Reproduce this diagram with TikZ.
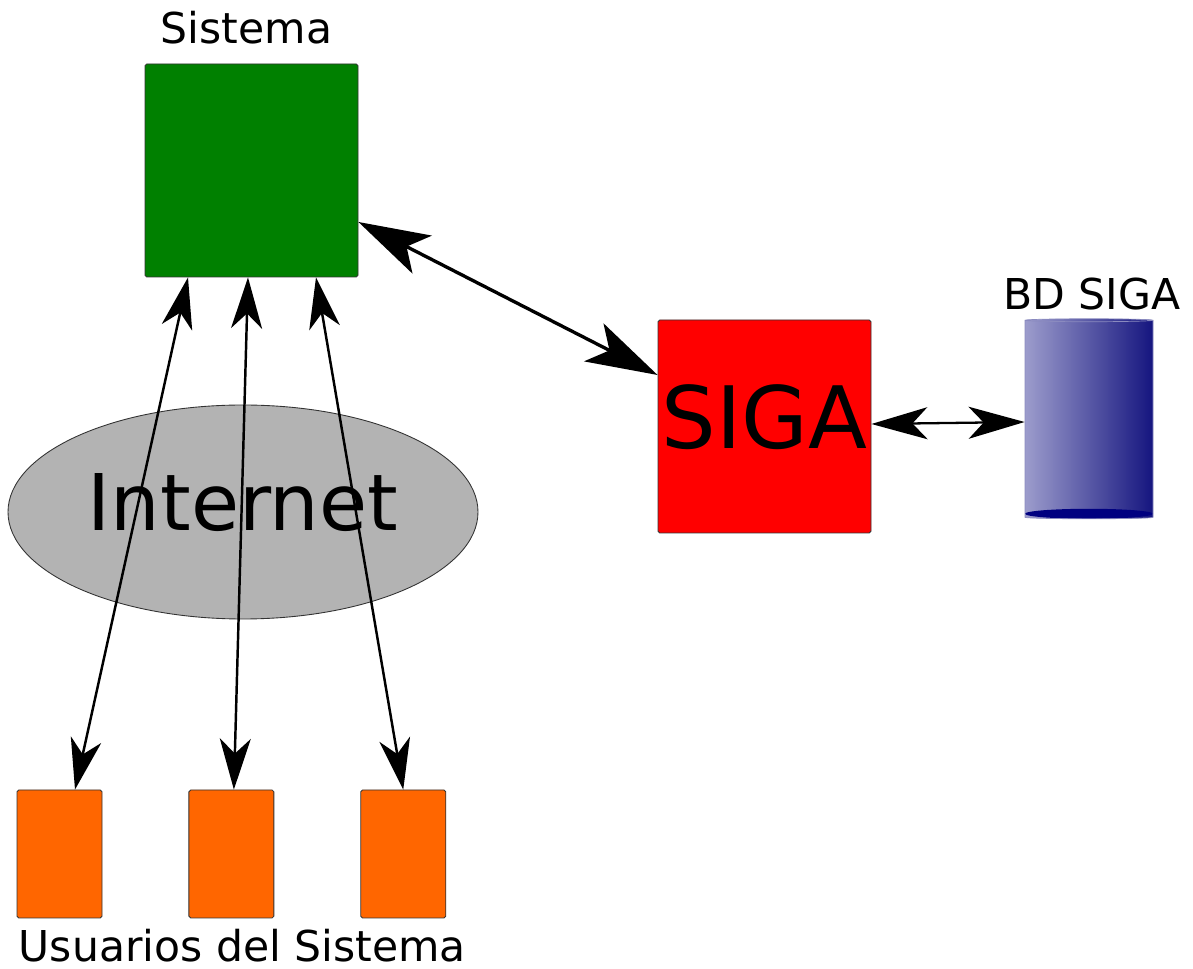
\documentclass[tikz,border=0pt]{standalone}
\usepackage{fontspec}
\setmainfont{DejaVu Sans}
\usepackage{tikz}
\usetikzlibrary{positioning,arrows.meta,shapes.geometric}
\definecolor{sisgreen}{HTML}{008000}
\definecolor{sigared}{HTML}{FF0000}
\definecolor{userorange}{HTML}{FF6600}
\definecolor{netgray}{HTML}{B3B3B3}
\definecolor{bdlight}{HTML}{9C9CCC}
\definecolor{bddark}{HTML}{15157F}
\definecolor{bdbottom}{HTML}{000080}

\begin{document}
\begin{tikzpicture}[node distance=0.5cm,
    box/.style={rectangle,rounded corners=1pt,draw=black!80,line width=0.5pt,
                minimum width=4.26cm,minimum height=4.26cm,inner sep=0pt},
    userbox/.style={rectangle,rounded corners=1pt,draw=black!80,line width=0.5pt,
                    fill=userorange,minimum width=1.70cm,minimum height=2.56cm},
    lbl/.style={inner sep=0pt,font=\fontsize{24.2}{29}\selectfont},
    bigarr/.style={{Stealth[length=1.43cm,width=0.85cm,inset=0.35cm]}-{Stealth[length=1.43cm,width=0.85cm,inset=0.35cm]},line width=1.9pt},
    userarr/.style={{Stealth[length=1.02cm,width=0.62cm,inset=0.3cm]}-{Stealth[length=1.02cm,width=0.62cm,inset=0.3cm]},line width=1.4pt},
    dbarr/.style={{Stealth[length=1.12cm,width=0.64cm,inset=0.3cm]}-{Stealth[length=1.12cm,width=0.64cm,inset=0.3cm]},line width=1.3pt}]
  \useasboundingbox (0,0) rectangle (23.86,-19.38);

  % main boxes
  \node[box,fill=sisgreen] (sis) at (5.03,-3.41) {};
  \node[box,fill=sigared,text depth=0.4cm,font=\fontsize{49}{58}\selectfont] (siga) at (15.29,-8.53) {SIGA};
  \node[ellipse,draw=black!80,line width=0.5pt,fill=netgray,minimum width=9.4cm,minimum height=4.28cm,
        inner sep=0pt,text depth=0.42cm,font=\fontsize{44.5}{53}\selectfont] (net) at (4.86,-10.24) {Internet};

  % database
  \node[cylinder,shape border rotate=90,aspect=0.25,draw=bddark!50,line width=0.4pt,
        minimum width=2.56cm,minimum height=4cm,left color=bdlight,right color=bddark,
        path picture={\fill[bdbottom] ([yshift=0.1cm]path picture bounding box.south) ellipse (1.28cm and 0.1cm);}]
        (bd) at (21.78,-8.40) {};

  % users
  \node[userbox] (u1) at (1.19,-17.08) {};
  \node[userbox,right=1.72cm of u1] (u2) {};
  \node[userbox,right=1.72cm of u2] (u3) {};

  % labels
  \node[lbl,above=0.38cm of sis,xshift=-0.1cm] (sislbl) {Sistema};
  \node[lbl,above=0.16cm of bd,xshift=0.06cm] (bdlbl) {BD SIGA};
  \node[lbl,below=0.2cm of u2,xshift=0.22cm] (userlbl) {Usuarios del Sistema};

  % links
  \draw[bigarr] ([yshift=-1.03cm]sis.east) -- ([yshift=1.03cm]siga.west);
  \draw[dbarr] ([yshift=0.05cm]siga.east) -- ([yshift=-0.04cm]bd.west);
  \draw[userarr] ([xshift=-1.27cm]sis.south) -- ([xshift=0.31cm]u1.north);
  \draw[userarr] ([xshift=-0.07cm]sis.south) -- ([xshift=0.05cm]u2.north);
  \draw[userarr] ([xshift=1.29cm]sis.south) -- (u3.north);
\end{tikzpicture}
\end{document}
